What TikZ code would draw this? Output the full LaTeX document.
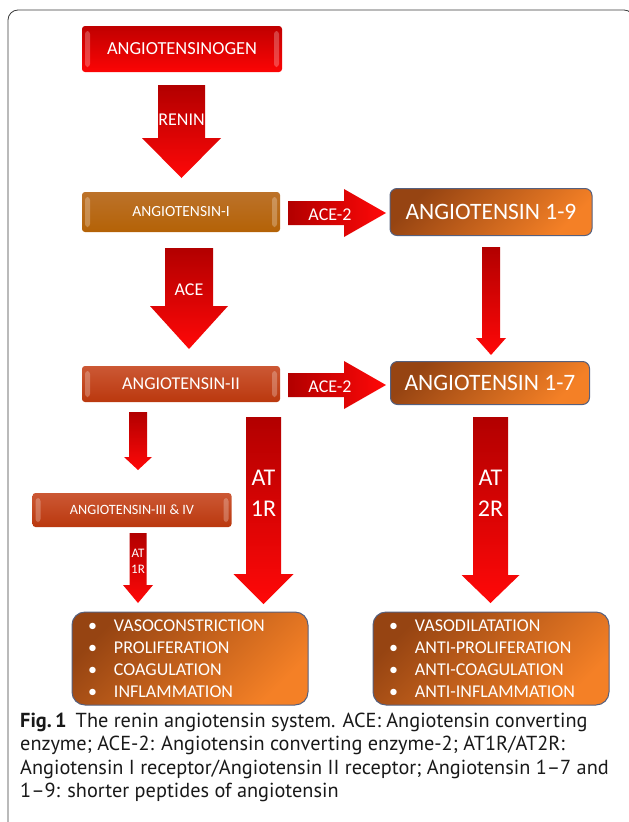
\documentclass[tikz,border=0pt]{standalone}
\usepackage{fontspec}
\setmainfont{Carlito}
\newfontfamily\capfont{PT Sans}
\usetikzlibrary{calc,positioning}
\definecolor{arrowred}{RGB}{255,8,8}
\definecolor{arrowdark}{RGB}{178,0,0}
\definecolor{genT}{RGB}{192,0,0}
\definecolor{genB}{RGB}{252,5,5}
\definecolor{angoneT}{RGB}{188,114,42}
\definecolor{angoneB}{RGB}{180,98,6}
\definecolor{angtwoT}{RGB}{204,88,52}
\definecolor{angtwoB}{RGB}{186,56,14}
\definecolor{peptT}{RGB}{150,68,18}
\definecolor{peptB}{RGB}{244,128,38}
\definecolor{peptline}{RGB}{86,96,126}
\definecolor{framegray}{RGB}{60,60,60}

% block arrow pointing down: top centre, tip, shaft half width, head half width, head length
\newcommand{\arrowdown}[5]{%
  \shade[top color=arrowdark,bottom color=arrowred]
    ($(#1)+(-#3,0)$) -- ($(#1)+(#3,0)$) -- ($(#2)+(#3,-#5)$) -- ($(#2)+(#4,-#5)$)
    -- (#2) -- ($(#2)+(-#4,-#5)$) -- ($(#2)+(-#3,-#5)$) -- cycle;}
% block arrow pointing right: left centre, tip, shaft half width, head half width, head length
\newcommand{\arrowright}[5]{%
  \shade[left color=arrowdark,right color=arrowred]
    ($(#1)+(0,-#3)$) -- ($(#2)+(-#5,-#3)$) -- ($(#2)+(-#5,-#4)$) -- (#2)
    -- ($(#2)+(-#5,#4)$) -- ($(#2)+(-#5,#3)$) -- ($(#1)+(0,#3)$) -- cycle;}

\begin{document}
\begin{tikzpicture}[x=1pt,y=-1pt,
  bevel/.style={path picture={
    \fill[white,opacity=.25] ([xshift=3pt,yshift=-5pt]path picture bounding box.north west)
      rectangle ([xshift=8pt,yshift=5pt]path picture bounding box.south west);
    \fill[white,opacity=.25] ([xshift=-3pt,yshift=-5pt]path picture bounding box.north east)
      rectangle ([xshift=-8pt,yshift=5pt]path picture bounding box.south east);}},
  stepbox/.style={rounded corners=3pt,text=white,inner sep=0pt,bevel},
  peptide/.style={rounded corners=7pt,text=white,inner sep=0pt,draw=peptline,line width=1pt,
    top color=peptT,bottom color=peptB,shading angle=45},
  effect/.style={peptide,rounded corners=13pt,minimum width=236,minimum height=93,
    align=left,text width=204,font=\fontsize{18}{22}\selectfont},
  arrowlbl/.style={text=white,inner sep=0pt,align=center}]
\useasboundingbox (0,0) rectangle (629,822);
\draw[framegray,line width=.8pt,rounded corners=10pt] (8,10) rectangle (634,835);

\node[stepbox,top color=genT,bottom color=genB,minimum width=200,minimum height=46,
  font=\fontsize{18.4}{18.4}\selectfont] (gen) at (182,49) {ANGIOTENSINOGEN};
\node[stepbox,top color=angoneT,bottom color=angoneB,minimum width=198,minimum height=40,
  font=\fontsize{15.5}{15.5}\selectfont] (angI) at (181,212) {ANGIOTENSIN-I};
\node[stepbox,top color=angtwoT,bottom color=angtwoB,minimum width=198,minimum height=36,
  font=\fontsize{18}{18}\selectfont] (angII) at (181,384) {ANGIOTENSIN-II};
\node[stepbox,top color=angtwoT,bottom color=angtwoB,minimum width=199,minimum height=34,
  font=\fontsize{14.2}{14.2}\selectfont] (angIII) at (132,510) {ANGIOTENSIN-III \& IV};
\node[peptide,minimum width=202,minimum height=47,font=\fontsize{23.5}{23.5}\selectfont]
  (a19) at (491,212) {ANGIOTENSIN 1-9};
\node[peptide,minimum width=199,minimum height=43,font=\fontsize{23.5}{23.5}\selectfont]
  (a17) at (490,383) {ANGIOTENSIN 1-7};
\node[effect] (vaso) at (190,658.5) {%
  \makebox[26pt][l]{\textbullet}VASOCONSTRICTION\\
  \makebox[26pt][l]{\textbullet}PROLIFERATION\\
  \makebox[26pt][l]{\textbullet}COAGULATION\\
  \makebox[26pt][l]{\textbullet}INFLAMMATION};
\node[effect] (dila) at (491,658.5) {%
  \makebox[26pt][l]{\textbullet}VASODILATATION\\
  \makebox[26pt][l]{\textbullet}ANTI-PROLIFERATION\\
  \makebox[26pt][l]{\textbullet}ANTI-COAGULATION\\
  \makebox[26pt][l]{\textbullet}ANTI-INFLAMMATION};

\coordinate (reninA) at (181.5,85);   \coordinate (reninB) at (181.5,178);
\coordinate (aceA) at (189,248);      \coordinate (aceB) at (189,349);
\coordinate (nineA) at (491,247);     \coordinate (nineB) at (491,355);
\coordinate (aceiiA) at (288,213);    \coordinate (aceiiB) at (386,213);
\coordinate (acejA) at (288,385);     \coordinate (acejB) at (386,385);
\coordinate (threeA) at (138,412);    \coordinate (threeB) at (138,470);
\coordinate (smallA) at (138,533);    \coordinate (smallB) at (138,603);
\coordinate (oneA) at (263.5,417);    \coordinate (oneB) at (263.5,604);
\coordinate (twoA) at (490.5,417);    \coordinate (twoB) at (490.5,603);

\arrowdown{reninA}{reninB}{23.5}{39.5}{40}
\arrowdown{aceA}{aceB}{24}{39}{43}
\arrowdown{nineA}{nineB}{9}{15}{17}
\arrowright{aceiiA}{aceiiB}{12}{24}{42}
\arrowright{acejA}{acejB}{12}{24}{42}
\arrowdown{threeA}{threeB}{9}{14}{13}
\arrowdown{smallA}{smallB}{8.5}{15}{18}
\arrowdown{oneA}{oneB}{17.5}{30}{30}
\arrowdown{twoA}{twoB}{17.5}{29}{28}

\node[arrowlbl,font=\fontsize{18}{18}\selectfont] (renin) at (181.5,120) {RENIN};
\node[arrowlbl,font=\fontsize{18}{18}\selectfont] (ace) at (189,290) {ACE};
\node[arrowlbl,font=\fontsize{18}{18}\selectfont] (aceii) at (330,215) {ACE-2};
\node[arrowlbl,font=\fontsize{18}{18}\selectfont] (acej) at (330,387) {ACE-2};
\node[arrowlbl,font=\fontsize{13}{16}\selectfont] (smallat) at (138,561) {AT\\1R};
\node[arrowlbl,font=\fontsize{24}{31}\selectfont] (atone) at (263.5,493) {AT\\1R};
\node[arrowlbl,font=\fontsize{24}{31}\selectfont] (attwo) at (490.5,493) {AT\\2R};

\node[anchor=north west,align=left,inner sep=0pt,text=black!90,
  font=\capfont\fontsize{20.3}{23.2}\selectfont] (cap) at (20,713)
  {\textbf{Fig.\,1}\hspace{9pt}The renin angiotensin system. ACE: Angiotensin converting\\
   enzyme; ACE-2: Angiotensin converting enzyme-2; AT1R/AT2R:\\
   Angiotensin I receptor/Angiotensin II receptor; Angiotensin 1–7 and\\
   1–9: shorter peptides of angiotensin};
\end{tikzpicture}
\end{document}
